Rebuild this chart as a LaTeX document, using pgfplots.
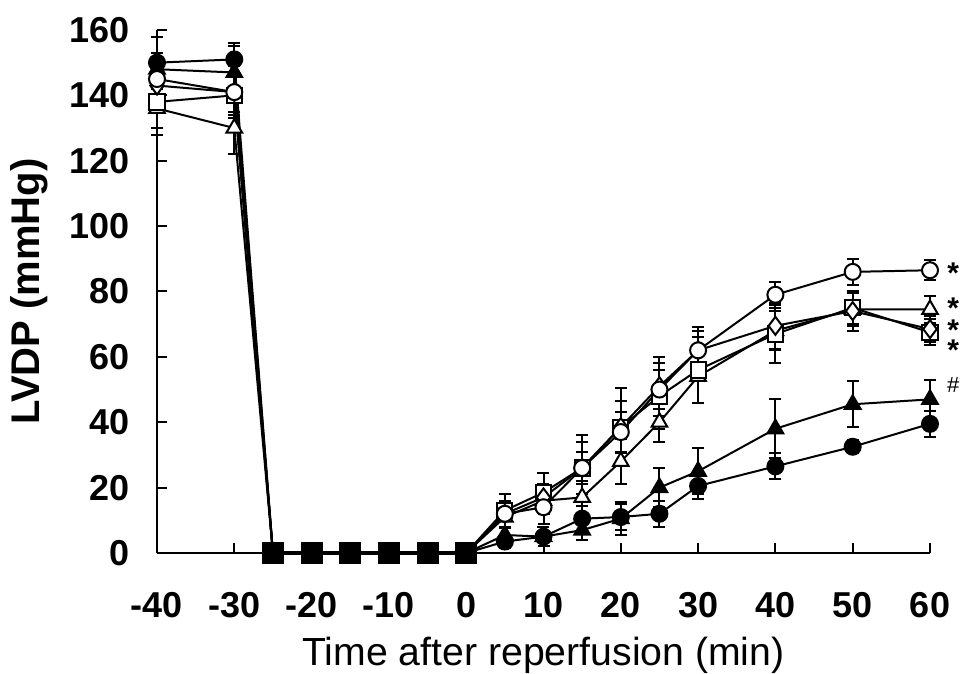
\documentclass[border=0pt]{standalone}
\usepackage{pgfplots}
\usepackage{pgfplotstable}
\pgfplotsset{compat=1.18}
\usepackage{fontspec}
\setmainfont{Liberation Sans}

\pgfplotstableread{
x y e
-40 145 8
-30 141 8
-25 0 0
0 0 0
5 12 4
10 14 5
15 26 5
20 37 6
25 50 6
30 62 6
40 79 4
50 86 4
60 86.5 3
}\opencircle
\pgfplotstableread{
x y e
-40 136 8
-30 130 8
-25 0 0
0 0 0
5 11 3
10 16 4
15 17 5
20 28 7
25 40 6
30 54 8
40 68 6
50 74.5 5
60 74.5 4
}\opentri
\pgfplotstableread{
x y e
-40 138 8
-30 140 6
-25 0 0
0 0 0
5 13 5
10 18.5 6
15 26 10
20 38.5 12
25 48 10
30 56 10
40 67 9
50 75 5
60 67.5 4
}\opensq
\pgfplotstableread{
x y e
-40 143 7
-30 141 6
-25 0 0
0 0 0
5 12 4
10 17 4
15 26 8
20 38.5 8
25 51 9
30 62 7
40 69.5 7
50 74 6
60 68.5 4
}\opendia
\pgfplotstableread{
x y e
-40 148 10
-30 147 8
-25 0 0
0 0 0
5 5.5 2
10 5 3
15 7 3
20 10.5 5
25 20 6
30 25 7
40 38 9
50 45.5 7
60 47 6
}\filltri
\pgfplotstableread{
x y e
-40 150 8
-30 151 5
-25 0 0
0 0 0
5 3.5 2
10 5 3
15 10.5 4
20 11 4
25 12 4
30 20.5 4
40 26.5 4
50 32.5 2
60 39.5 4
}\fillcirc
\pgfplotstableread{
x y
-25 0
-20 0
-15 0
-10 0
-5 0
0 0
}\ischemia

\begin{document}
\begin{tikzpicture}
\begin{axis}[
  scale only axis,
  width=386.5pt, height=261.5pt,
  xmin=-40, xmax=60, ymin=0, ymax=160,
  axis x line*=bottom, axis y line*=left,
  axis line style={line width=1pt},
  xtick={-40,-30,...,60}, ytick={0,20,...,160},
  tick align=inside,
  major tick length=5pt,
  tick style={line width=1pt, black},
  /pgf/number format/assume math mode=true,
  ticklabel style={font=\bfseries\fontsize{18}{18}\selectfont},
  xticklabel style={yshift=-16pt},
  yticklabel style={xshift=-10pt},
  xlabel={Time after reperfusion (min)},
  ylabel={\bfseries LVDP (mmHg)},
  xlabel style={font=\fontsize{19.6}{19.6}\selectfont, yshift=-3pt},
  ylabel style={font=\fontsize{20}{20}\selectfont, yshift=4pt},
  clip=false,
  every axis plot/.append style={line width=1pt, black, solid,
     mark options={solid, line width=1pt, black},
     error bars/error bar style={line width=1pt, black},
     error bars/error mark options={rotate=90, mark size=3pt, line width=1pt, black}},
]
\addplot[black, mark=triangle*, mark size=4.5pt, mark options={fill=black}, mark indices={1,2,5,6,7,8,9,10,11,12,13},
  error bars/.cd, y dir=both, y explicit] table[x=x,y=y,y error=e] {\filltri};
\addplot[black, mark=*, mark size=4pt, mark options={fill=black}, mark indices={1,2,5,6,7,8,9,10,11,12,13},
  error bars/.cd, y dir=both, y explicit] table[x=x,y=y,y error=e] {\fillcirc};
\addplot[black, mark=triangle*, mark size=4.5pt, mark options={fill=white}, mark indices={1,2,5,6,7,8,9,10,11,12,13},
  error bars/.cd, y dir=both, y explicit] table[x=x,y=y,y error=e] {\opentri};
\addplot[black, mark=square*, mark size=3.8pt, mark options={fill=white}, mark indices={1,2,5,6,7,8,9,10,11,12,13},
  error bars/.cd, y dir=both, y explicit] table[x=x,y=y,y error=e] {\opensq};
\addplot[black, mark=diamond*, mark size=4.5pt, mark options={fill=white}, mark indices={1,2,5,6,7,8,9,10,11,12,13},
  error bars/.cd, y dir=both, y explicit] table[x=x,y=y,y error=e] {\opendia};
\addplot[black, mark=*, mark size=4pt, mark options={fill=white}, mark indices={1,2,5,6,7,8,9,10,11,12,13},
  error bars/.cd, y dir=both, y explicit] table[x=x,y=y,y error=e] {\opencircle};
\addplot[black, mark=square*, mark size=4.5pt, mark options={fill=black}, line width=2pt] table[x=x,y=y] {\ischemia};
\node[inner sep=0pt, font=\bfseries\fontsize{15}{15}\selectfont] at (axis cs:63,85.5) {*};
\node[inner sep=0pt, font=\bfseries\fontsize{15}{15}\selectfont] at (axis cs:63,74.8) {*};
\node[inner sep=0pt, font=\bfseries\fontsize{15}{15}\selectfont] at (axis cs:63,68.1) {*};
\node[inner sep=0pt, font=\bfseries\fontsize{15}{15}\selectfont] at (axis cs:63,62) {*};
\node[inner sep=0pt, font=\fontsize{11}{11}\selectfont] at (axis cs:63,51.4) {\#};
\end{axis}
\pgfresetboundingbox
\path ([shift={(-78.5pt,-60.5pt)}]current axis.south west) rectangle ([shift={(16pt,15pt)}]current axis.north east);
\end{tikzpicture}
\end{document}
